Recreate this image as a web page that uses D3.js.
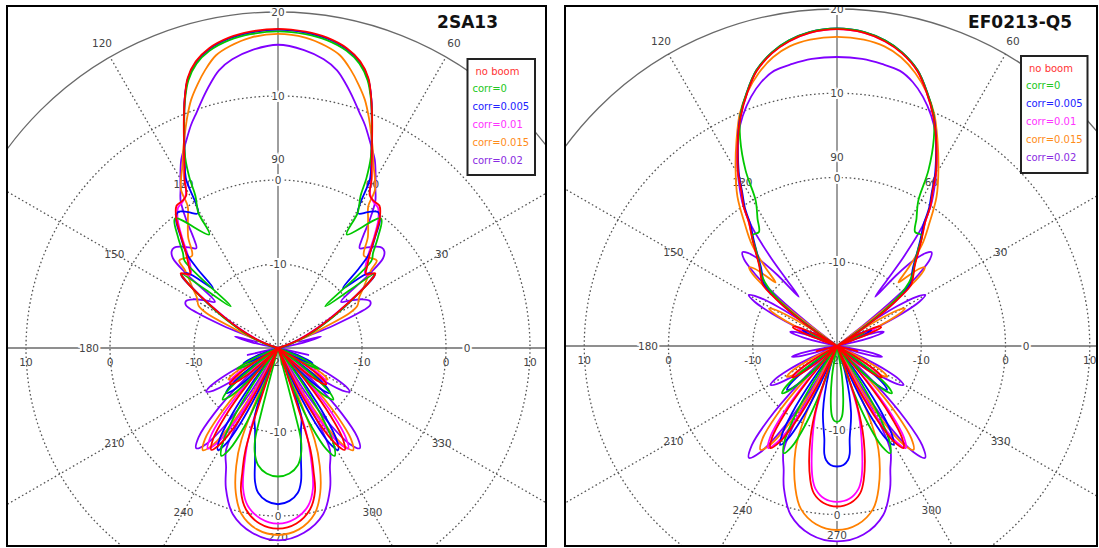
<!DOCTYPE html>
<html><head><meta charset="utf-8">
<script src="https://cdn.jsdelivr.net/npm/d3@7"></script>
<style>
body{margin:0;background:#fff;}
text{font-family:"DejaVu Sans",Verdana,sans-serif;}
</style></head><body>
<svg id="chart" width="1099" height="548"></svg>
<script>
// ---------- labels / ticks ----------
const seriesNames = ["no boom","corr=0","corr=0.005","corr=0.01","corr=0.015","corr=0.02"];
const panelTitles = ["2SA13","EF0213-Q5"];
const ringTicks = [-20,-10,0,10,20];
const angleTicks = [0,30,60,90,120,150,180,210,240,270,300,330];
const outerAngleTicks = [60,120];

// ---------- data: [off-axis angle from 90° (deg), gain (dB)]; pattern symmetric about the 90°-270° axis ----------
const sa13_noBoom = [[0,18.0],[5,17.8],[9,17.4],[13,16.6],[16,15.5],[18.5,13.9],[20.5,11.7],[22.5,9.3],[24.5,7.0],[26.5,5.0],[29,3.0],[31,1.2],[33,0.9],[35.5,0.8],[38,-0.3],[41,-2.4],[44,-4.2],[47.5,-5.6],[50,-6.3],[52.5,-5.4],[54,-6.4],[56,-8.6],[59,-11.6],[63,-14.5],[68,-17.2],[74,-19.5],[80,-20],[119,-20],[121,-17.3],[123,-14.9],[125,-13.4],[127,-12.8],[129,-13.4],[131,-14.9],[133,-17.3],[135,-20],[137.8,-20],[140,-14.5],[142.3,-9.7],[144.5,-6.7],[146.8,-5.5],[149,-6.7],[151.3,-9.7],[153.5,-14.5],[155.8,-20],[159,-20],[162.3,-7.3],[164,-4.6],[165.5,-2.4],[168.8,-0.4],[174,1.0],[180,1.5]];
const sa13_corr0 = [[0,17.7],[5,17.5],[9,17.1],[13,16.3],[16,15.2],[18.5,13.6],[20.5,11.6],[22.5,9.2],[24.5,6.9],[26,5.2],[27.5,2.8],[28.5,0.6],[30.5,-1.3],[31.2,-4.2],[38.5,-0.3],[42,-2.2],[45,-4.0],[47,-4.8],[48.7,-12.5],[52.5,-5.5],[55,-7.5],[58,-10.5],[62,-13.5],[67,-16.2],[73,-18.8],[80,-20],[108,-20],[113,-17],[117,-14.5],[120,-16.5],[123,-20],[125,-20],[127,-16.6],[129,-13.6],[131,-11.7],[133,-11],[135,-11.7],[137,-13.6],[139,-16.6],[141,-20],[143.3,-20],[145.5,-14.5],[147.8,-9.7],[150,-6.7],[152.3,-5.5],[154.5,-6.7],[156.8,-9.7],[159,-14.5],[161.3,-20],[163,-20],[165.5,-12],[166,-8.7],[167.7,-7.1],[170.4,-5.85],[174.8,-5.0],[180,-4.7]];
const sa13_corr005 = [[0,17.9],[5,17.7],[9,17.3],[13,16.5],[16,15.4],[18.5,13.8],[20.5,11.7],[22.5,9.2],[24.5,6.9],[26.5,4.9],[28.5,3.0],[30.7,-1.35],[33.5,-0.6],[36.3,0.1],[38.5,-0.5],[41,-2.3],[44,-4.3],[45.5,-6.5],[47.4,-9.5],[50.5,-6],[53,-5.6],[55,-7.6],[58,-10.5],[62,-13.8],[67,-16.5],[73,-19],[80,-20],[106,-20],[110,-17.5],[114,-15.5],[117,-17],[121,-20],[123,-20],[125,-16.9],[127,-14.2],[129,-12.5],[131,-11.8],[133,-12.5],[135,-14.2],[137,-16.9],[139,-20],[141.5,-20],[143.5,-14.6],[145.5,-10],[147.5,-7],[149.5,-5.9],[151.5,-7],[153.5,-10],[155.5,-14.6],[157,-20],[159.8,-14.3],[161.5,-11.2],[164.3,-9.9],[168.4,-6.4],[170.2,-3.9],[172.2,-2.6],[175.7,-1.75],[180,-1.4]];
const sa13_corr01 = [[0,17.9],[5,17.7],[9,17.3],[13,16.5],[16,15.4],[18.5,13.8],[20.5,11.7],[22.5,9.2],[24.5,6.9],[26.5,4.9],[29,2.8],[31,1.3],[33,0.8],[35.5,0.5],[38,-0.6],[41,-2.6],[44,-4.5],[47.5,-5.9],[50,-6.4],[52.5,-5.6],[54,-6.6],[56,-8.8],[59,-11.8],[63,-14.7],[68,-17.4],[74,-19.5],[80,-20],[104,-20],[110,-17.5],[114,-16.5],[117,-20],[118,-20],[119.75,-17.3],[121.5,-15],[123.25,-13.6],[125,-13],[126.75,-13.6],[128.5,-15],[130.25,-17.3],[132,-20],[136.1,-20],[138.4,-14.5],[140.6,-9.6],[142.9,-6.6],[145.1,-5.4],[147.4,-6.6],[149.6,-9.6],[151.9,-14.5],[154.1,-20],[158,-20],[161.5,-9.5],[163,-6.8],[166,-2.8],[169.1,-0.9],[174.1,0.4],[180,0.9]];
const sa13_corr015 = [[0,17.4],[5,17.1],[9,16.4],[12,15.6],[14.7,14.2],[17,12.8],[19.3,11.3],[21.5,9.5],[23.5,7.8],[25.5,6.2],[27.5,4.6],[29.5,3.4],[31.5,2.1],[32.5,0.0],[35,-1.3],[39,-3.0],[43,-5.0],[46,-4.6],[48.5,-4.3],[50,-5.5],[52,-6.5],[55,-7.6],[58,-8.6],[62,-9.3],[64,-10.5],[66,-14],[70,-17.5],[76,-20],[115,-20],[116.9,-17.3],[118.7,-15],[120.6,-13.6],[122.5,-13],[124.4,-13.6],[126.2,-15],[128.1,-17.3],[130,-20],[134.2,-20],[136.6,-14.3],[139,-9.3],[141.3,-6.1],[143.7,-4.9],[146.1,-6.1],[148.5,-9.3],[150.8,-14.3],[153.2,-20],[155,-20],[158.3,-8.2],[160.5,-5.1],[163.8,-2.0],[167.6,0.24],[173.4,1.74],[180,2.26]];
const sa13_corr02 = [[0,16.1],[5,15.6],[9,14.8],[12,13.8],[14.5,12.4],[17,10.9],[19,9.7],[21.3,8.5],[23.5,7.2],[25.5,6.1],[27.2,5.2],[29.5,3.6],[31.5,2.2],[33.5,1.0],[35.6,-1.25],[37.5,-3.5],[39.3,-4.65],[41.5,-4],[43.7,-3.3],[46,-2.8],[47.8,-2.9],[49.5,-3.55],[51,-6],[53.8,-10.7],[56.5,-9.8],[60,-8.4],[63,-7.7],[65,-7.9],[66.5,-9.5],[68,-13],[70,-17.5],[72,-17.5],[75,-14.7],[78,-17],[81,-20],[99,-20],[103,-16.3],[107,-20],[113.4,-20],[115.4,-16.2],[117.4,-12.9],[119.4,-10.8],[121.4,-10],[123.4,-10.8],[125.4,-12.9],[127.4,-16.2],[129.4,-20],[130.8,-20],[133.3,-14.1],[135.8,-9.1],[138.3,-5.8],[140.8,-4.6],[143.3,-5.8],[145.8,-9.1],[148.3,-14.1],[150.5,-20],[151.5,-12],[153,-6.4],[156.5,-4.5],[159.6,-2.2],[164.8,0.5],[172,2.2],[180,2.9]];

const ef_noBoom = [[0,17.6],[5,17.3],[9,16.6],[12.5,15.6],[16.3,14.0],[19.5,11.9],[22.7,9.6],[25.5,7.3],[27.9,5.2],[29.8,3.6],[31.7,1.6],[33.7,0.0],[35.5,-2.0],[38,-3.6],[41,-5.3],[44,-6.7],[47,-7.6],[50.5,-8.6],[52.5,-11],[54.5,-14],[56.5,-17],[59,-20],[62,-17],[65,-14.5],[67,-14.3],[69,-16],[72,-20],[100,-20],[104,-17.5],[107,-20],[118,-20],[119.75,-17.5],[121.5,-15.4],[123.25,-14],[125,-13.5],[126.75,-14],[128.5,-15.4],[130.25,-17.5],[132,-20],[137.9,-20],[140.15,-14.5],[142.4,-9.75],[144.65,-6.7],[146.9,-5.55],[149.15,-6.7],[151.4,-9.75],[153.65,-14.5],[155.9,-20],[158,-20],[161,-13],[164.1,-8.4],[168.7,-3.8],[171.1,-2.3],[175.1,-1.3],[180,-0.95]];
const ef_corr0 = [[0,17.7],[5,17.4],[9,16.7],[12.5,15.7],[16.3,14.1],[19.5,12.0],[22.7,9.7],[25,7.2],[27.5,3.5],[29.2,-0.2],[32,-2.2],[34.4,-3.6],[37.4,-3.45],[40,-5.0],[43.5,-6.6],[47,-7.8],[50,-9.5],[52.5,-12],[55,-15.5],[58,-20],[60,-20],[64,-16.5],[68,-20],[122.7,-20],[124.7,-16.7],[126.7,-13.9],[128.7,-12.1],[130.7,-11.4],[132.7,-12.1],[134.7,-13.9],[136.7,-16.7],[138.7,-20],[144.6,-20],[146.85,-14.6],[149.1,-9.9],[151.35,-6.9],[153.6,-5.8],[155.85,-6.9],[158.1,-9.9],[160.35,-14.6],[162.6,-20],[168,-20],[170.7,-16.3],[174,-13],[176,-11.6],[178,-11.1],[180,-11.0]];
const ef_corr005 = [[0,17.7],[5,17.4],[9,16.7],[12.5,15.7],[16.3,14.1],[19.5,12.0],[22.7,9.7],[25.5,7.3],[27.9,5.1],[29.8,3.4],[31.7,1.4],[33.7,-0.3],[35.5,-2.3],[38,-3.9],[41,-5.6],[44,-7.0],[47,-7.9],[49.5,-8.5],[52,-11],[54,-14],[56,-17.5],[58.5,-20],[62,-16.5],[65.5,-15.5],[68,-17],[71,-20],[123.8,-20],[125.7,-17],[127.55,-14.4],[129.4,-12.7],[131.3,-12.1],[133.2,-12.7],[135.05,-14.4],[136.9,-17],[138.8,-20],[142.2,-20],[144.2,-14.9],[146.2,-10.4],[148.2,-7.6],[150.2,-6.5],[152.2,-7.6],[154.2,-10.4],[156.2,-14.9],[158.2,-20],[160,-20],[163,-16.6],[168,-12],[172.3,-8.8],[173.3,-7.1],[174.5,-6.4],[176.9,-5.85],[180,-5.7]];
const ef_corr01 = [[0,17.6],[5,17.3],[9,16.6],[12.5,15.6],[16.3,14.0],[19.5,11.9],[22.7,9.6],[25.5,7.3],[27.9,5.2],[29.8,3.6],[31.7,1.6],[33.7,0.0],[35.5,-2.0],[38,-3.7],[41,-5.4],[44,-6.8],[47,-7.7],[50,-8.7],[52.5,-11],[54.5,-14],[56.5,-17],[59,-20],[62,-17.5],[65.5,-15],[68,-16.5],[71,-20],[118.5,-20],[120.1,-17.6],[121.75,-15.6],[123.4,-14.3],[125,-13.8],[126.6,-14.3],[128.25,-15.6],[129.9,-17.6],[131.5,-20],[137,-20],[139.25,-14.5],[141.5,-9.65],[143.75,-6.6],[146,-5.4],[148.25,-6.6],[150.5,-9.65],[152.75,-14.5],[155,-20],[159,-20],[162,-12],[165,-8.8],[169.4,-4.15],[171.6,-2.8],[175.4,-1.8],[180,-1.5]];
const ef_corr015 = [[0,16.7],[5,16.5],[9,16.0],[12.5,15.1],[16,13.7],[19.5,11.9],[22.7,9.9],[26,7.2],[29.7,4.3],[33.7,1.3],[37,-1.8],[40,-4.3],[42.5,-7.5],[44,-9.5],[45.5,-8],[46.8,-6.6],[48.1,-6.0],[49.5,-6.8],[51,-9.5],[52.5,-14],[54,-20],[55.1,-20],[56.6,-16.5],[58.1,-13.5],[59.6,-11.5],[61.1,-10.8],[62.6,-11.5],[64.1,-13.5],[65.6,-16.5],[67.1,-20],[114,-20],[115.9,-17.3],[117.75,-15],[119.6,-13.6],[121.5,-13],[123.4,-13.6],[125.25,-15],[127.1,-17.3],[129,-20],[134.1,-20],[136.5,-14.2],[138.85,-9.1],[141.2,-5.9],[143.6,-4.7],[146,-5.9],[148.35,-9.1],[150.7,-14.2],[153,-20],[155.5,-11],[158.2,-6.75],[163.7,-2.4],[167.5,-0.2],[173.3,1.3],[180,1.84]];
const ef_corr02 = [[0,14.3],[5,14.2],[9,13.9],[12.9,13.5],[16,12.6],[19,11.3],[22.3,9.5],[25,7.7],[28,5.3],[31,2.6],[33.5,0.3],[35.5,-2.5],[36.8,-6.8],[37.2,-10.2],[37.8,-12.6],[40,-9],[42,-6.2],[43.8,-4.7],[45.2,-4.2],[47,-4.9],[48.8,-7.2],[50.5,-11],[52,-16],[53,-20],[54.75,-15.4],[56.5,-11.4],[58.25,-8.9],[60,-7.9],[61.75,-8.9],[63.5,-11.4],[65.25,-15.4],[67,-20],[68.5,-17.8],[70,-15.9],[71.5,-14.7],[73,-14.2],[74.5,-14.7],[76,-15.9],[77.5,-17.8],[79,-20],[98,-20],[100,-17.5],[101.7,-15.3],[103.4,-14.5],[105.1,-15.3],[106.8,-17.5],[108.8,-20],[112.3,-20],[114.3,-16.5],[116.3,-13.5],[118.3,-11.6],[120.3,-10.85],[122.3,-11.6],[124.3,-13.5],[126.3,-16.5],[128.3,-20],[132.3,-20],[134.7,-13.6],[137.05,-8.0],[139.4,-4.45],[141.8,-3.1],[144.2,-4.45],[146.55,-8],[148.9,-13.6],[150.3,-20],[151.3,-9],[153,-6.0],[156.7,-4.0],[159.5,-2.0],[164.7,0.8],[172,2.6],[180,3.2]];

// ---------- styling / layout ----------
const colors = ["#ff0000","#00c800","#0000ff","#ff00ff","#ff8000","#8000ff"];
const legendTextColors = ["#ff3333","#22c822","#2222ff","#ff33ff","#ff8c1a","#8a2be2"];
const panels = [
  {title:panelTitles[0], data:[sa13_noBoom,sa13_corr0,sa13_corr005,sa13_corr01,sa13_corr015,sa13_corr02],
   x0:7,y0:6,x1:546,y1:546,cx:278,cy:348,R:336,lx:467.5,ly:59,lw:67.5,lh:116,tx:498},
  {title:panelTitles[1], data:[ef_noBoom,ef_corr0,ef_corr005,ef_corr01,ef_corr015,ef_corr02],
   x0:565,y0:6,x1:1097,y1:546,cx:837,cy:346,R:337,lx:1021,ly:56,lw:66.5,lh:117,tx:1072}
];

const svg = d3.select("#chart");
const defs = svg.append("defs");
const aScale = d3.scaleLinear().domain([0,360]).range([0,2*Math.PI]);

panels.forEach((p,pi)=>{
  const rScale = d3.scaleLinear().domain([-20,20]).range([0,p.R]).clamp(true);
  defs.append("clipPath").attr("id","clip"+pi).append("rect")
    .attr("x",p.x0).attr("y",p.y0).attr("width",p.x1-p.x0).attr("height",p.y1-p.y0);
  const g = svg.append("g").attr("clip-path",`url(#clip${pi})`);
  g.append("rect").attr("x",p.x0).attr("y",p.y0).attr("width",p.x1-p.x0).attr("height",p.y1-p.y0).attr("fill","#fff");
  const c = g.append("g").attr("transform",`translate(${p.cx},${p.cy})`);

  // dotted rings
  c.selectAll("circle.ring").data(ringTicks.filter(v=>v>-20 && v<20)).join("circle")
    .attr("r",d=>rScale(d)).attr("fill","none").attr("stroke","#555")
    .attr("stroke-width",1.3).attr("stroke-dasharray","1.6,2.6");
  // outer solid ring
  c.append("circle").attr("r",rScale(20)).attr("fill","none").attr("stroke","#6a6a6a").attr("stroke-width",1.3);
  // dotted spokes
  angleTicks.filter(a=>a%90!==0).forEach(a=>{
    const t = a*Math.PI/180;
    c.append("line").attr("x1",0).attr("y1",0)
      .attr("x2",rScale(20)*Math.cos(t)).attr("y2",-rScale(20)*Math.sin(t))
      .attr("stroke","#555").attr("stroke-width",1.3).attr("stroke-dasharray","1.6,2.6");
  });
  // solid axes
  c.append("line").attr("x1",p.x0-p.cx).attr("x2",p.x1-p.cx).attr("y1",0).attr("y2",0).attr("stroke","#6a6a6a").attr("stroke-width",1.3);
  c.append("line").attr("y1",p.y0-p.cy).attr("y2",p.y1-p.cy).attr("x1",0).attr("x2",0).attr("stroke","#6a6a6a").attr("stroke-width",1.3);

  const lab = (sel)=>sel.attr("font-size",10.5).attr("fill","#444").attr("text-anchor","middle")
      .attr("dominant-baseline","central");
  const halo = (sel)=>sel.attr("stroke","#fff").attr("stroke-width",4).attr("paint-order","stroke");

  // horizontal axis ring labels (below axis)
  ringTicks.filter(v=>v<20).forEach(v=>{
    const xs = v===-20 ? [0] : [-rScale(v), rScale(v)];
    xs.forEach(x=> lab(c.append("text")).attr("x",x).attr("y",14).text(v));
  });
  // vertical axis ring labels (only those inside the frame)
  ringTicks.filter(v=>v>-20).forEach(v=>{
    [-rScale(v), rScale(v)].filter(y=>p.cy+y>p.y0 && p.cy+y<p.y1-8)
      .forEach(y=> halo(lab(c.append("text"))).attr("x",0).attr("y",y).text(v));
  });
  // angle labels
  const aR = 189;
  angleTicks.forEach(a=>{
    const t=a*Math.PI/180;
    const s = lab(c.append("text")).attr("x",aR*Math.cos(t)).attr("y",-aR*Math.sin(t)).text(a);
    if (a%90===0) halo(s);
  });
  outerAngleTicks.forEach(a=>{
    const t=a*Math.PI/180;
    halo(lab(c.append("text"))).attr("x",352*Math.cos(t)).attr("y",-352*Math.sin(t)).text(a);
  });

  // pattern curves
  const line = d3.lineRadial().angle(d=>d.a).radius(d=>rScale(d.db))
    .curve(d3.curveCatmullRomClosed.alpha(0.5));
  const order = [5,4,3,2,1,0];
  order.forEach(si=>{
    const d = p.data[si];
    const right = d.map(([phi,db])=>({a:aScale(phi),db}));
    const left = d.slice(1,-1).reverse().map(([phi,db])=>({a:aScale(360-phi),db}));
    c.append("path").attr("d",line(right.concat(left))).attr("fill","none")
      .attr("stroke",colors[si]).attr("stroke-width",1.8).attr("stroke-linejoin","round");
  });

  // title
  svg.append("text").attr("x",p.tx).attr("y",28).attr("text-anchor","end")
    .attr("font-size",17).attr("font-weight","bold").attr("fill","#111").text(p.title);
  // legend
  svg.append("rect").attr("x",p.lx).attr("y",p.ly).attr("width",p.lw).attr("height",p.lh)
    .attr("fill","#fff").attr("stroke","#222").attr("stroke-width",2);
  seriesNames.forEach((n,i)=>{
    svg.append("text").attr("x",p.lx+(i===0?8:5)).attr("y",p.ly+12+i*17.8)
      .attr("dominant-baseline","central").attr("font-size",10).attr("fill",legendTextColors[i]).text(n);
  });
  // frame
  svg.append("rect").attr("x",p.x0).attr("y",p.y0).attr("width",p.x1-p.x0).attr("height",p.y1-p.y0)
    .attr("fill","none").attr("stroke","#000").attr("stroke-width",2);
});
</script></body></html>
